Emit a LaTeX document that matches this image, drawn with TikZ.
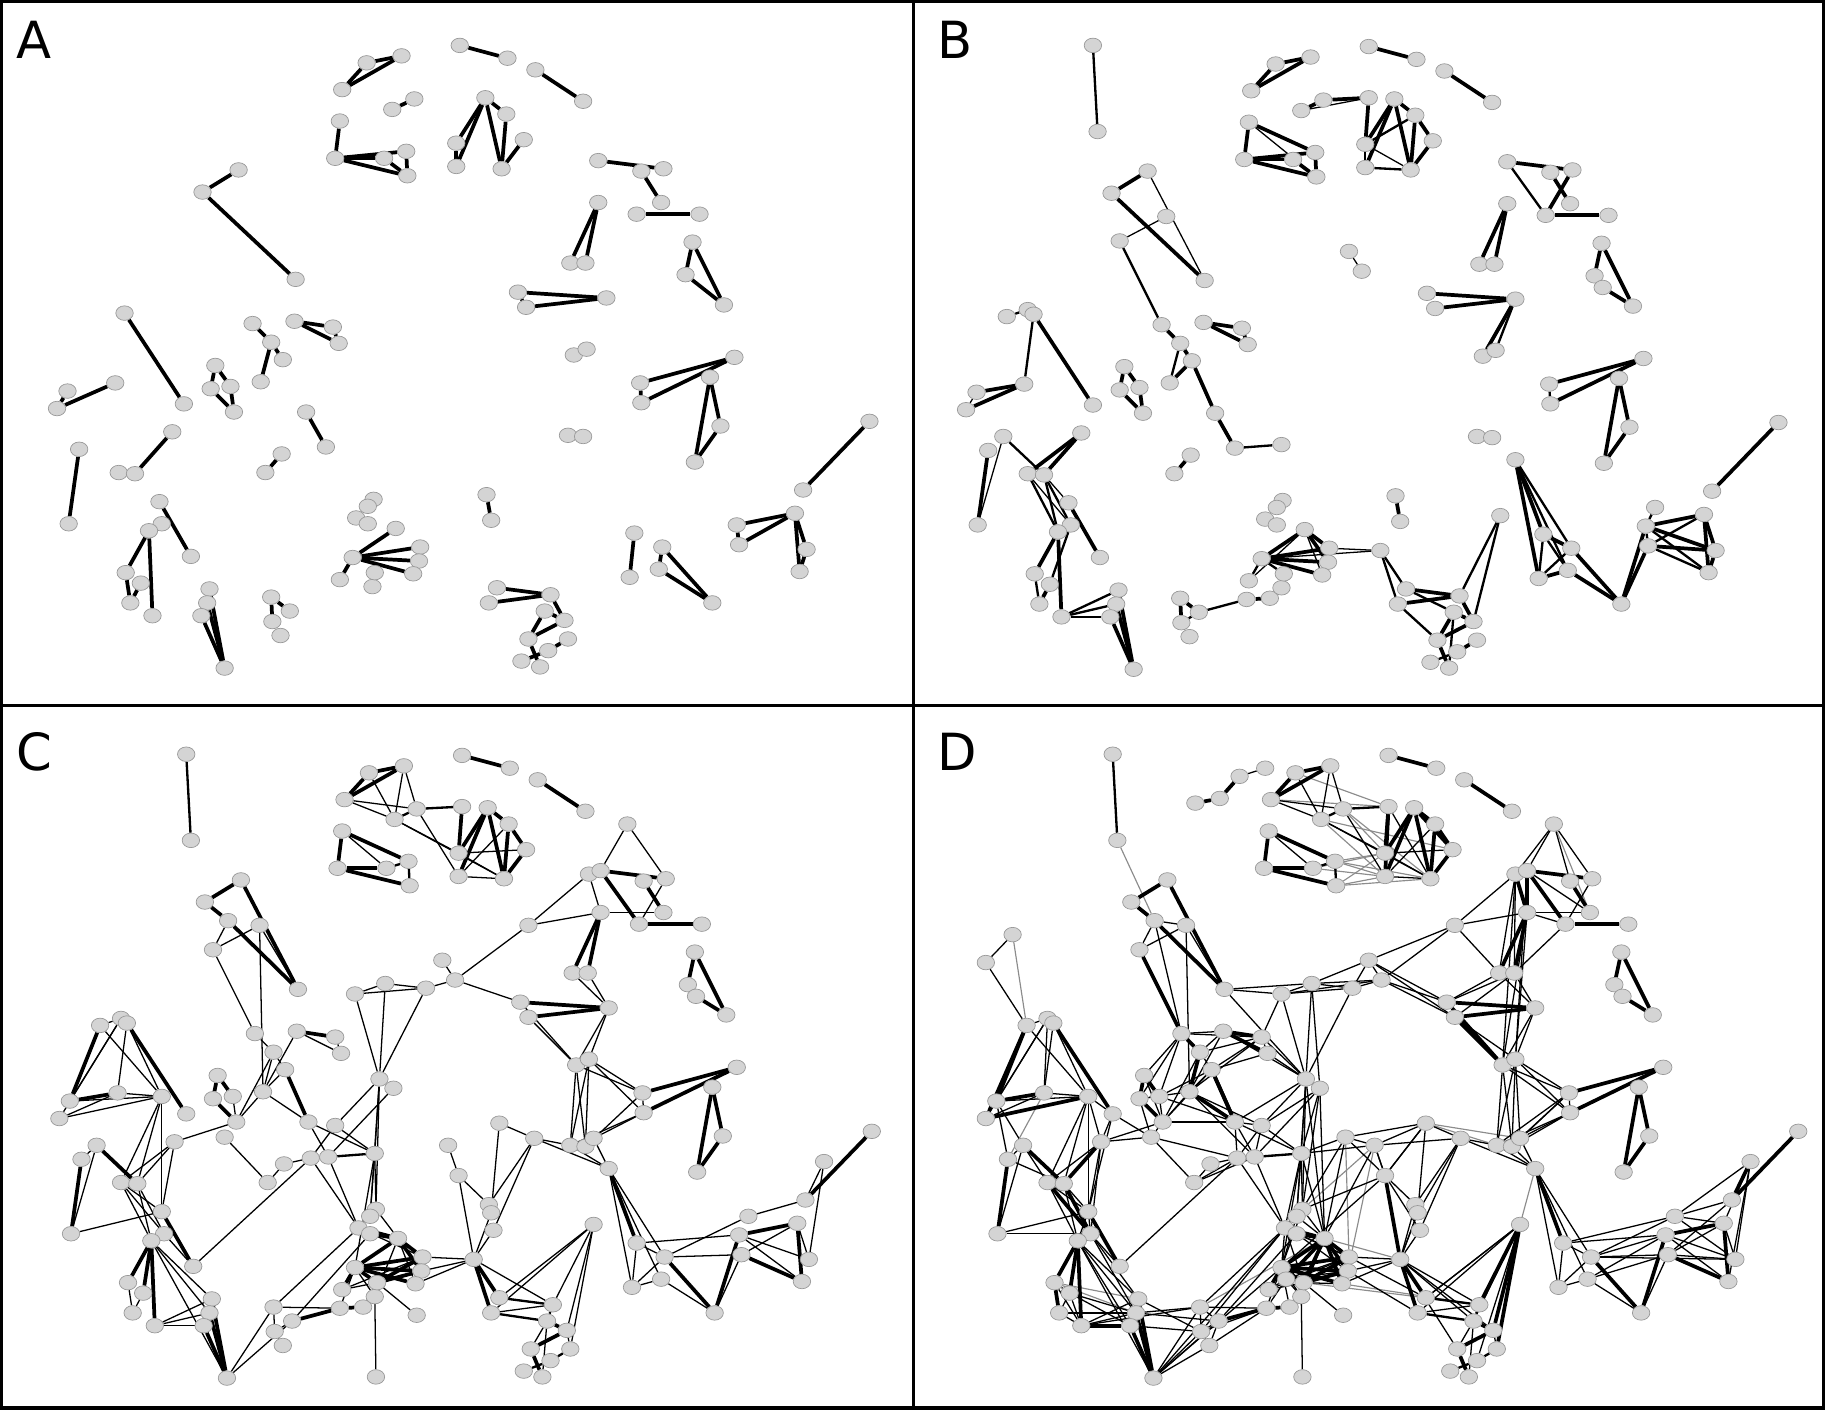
\documentclass[tikz,border=0pt]{standalone}
\usepackage{fontspec}
\setsansfont{DejaVu Sans}
\usetikzlibrary{shapes.geometric}
\pgfdeclarelayer{edges}
\pgfsetlayers{edges,main}

% node positions of the common layout (id/x/y)
\def\nodepos{1/160/37,2/164/111,3/347/47,4/317/53,5/296/76,6/358/84,7/339/93,8/294/103,9/290/135,10/332/135,11/351/129,12/352/150,13/397/38,14/438/49,15/462/59,16/503/86,17/397/82,18/419/83,19/437/97,20/394/122,21/394/142,22/433/144,23/452/119,24/539/97,25/506/140,26/516/137,27/553/146,28/572/144,29/570/173,30/549/183,31/603/183,32/516/173,33/454/184,34/492/225,35/505/225,36/597/207,37/591/235,38/598/245,39/624/261,40/447/250,41/454/263,42/523/255,43/495/304,44/506/299,45/633/306,46/612/323,47/552/328,48/553/345,49/621/365,50/599/396,51/429/354,52/459/367,53/490/373,54/503/374,55/510/367,56/523/393,57/749/361,58/708/387,59/692/420,60/643/434,61/685/440,62/635/450,63/637/467,64/695/471,65/689/490,66/614/517,67/547/457,68/571/469,69/543/495,70/568/488,71/394/399,72/420/424,73/422/431,74/424/446,75/407/471,76/510/441,77/429/504,78/422/517,79/475/510,80/470/524,81/487/532,82/456/548,83/490/548,84/473/558,85/450/567,86/466/572,87/207/145,88/176/164,89/196/180,90/223/184,91/183/205,92/256/239,93/380/214,94/391/231,95/305/243,96/331/234,97/366/238,98/326/316,99/338/324,100/86/270,101/104/264,102/109/268,103/60/335,104/51/350,105/101/328,106/139/331,107/160/346,108/219/277,109/235/293,110/245/308,111/226/327,112/255/275,113/288/280,114/293/294,115/187/313,116/183/333,117/200/331,118/203/353,119/265/353,120/288/356,121/282/383,122/267/384,123/244/389,124/230/405,125/193/366,126/150/370,127/83/373,128/70/385,129/104/405,130/118/406,131/61/449,132/139/430,133/141/449,134/130/455,135/166/477,136/110/491,137/123/500,138/114/517,139/133/528,140/182/505,141/180/517,142/175/528,143/195/573,144/235/512,145/251/524,146/236/533,147/243/545,148/292/513,149/312/512,150/322/503,151/323/572,152/322/380,153/323/428,154/318/434,155/308/444,156/318/449,157/342/453,158/305/478,159/294/497,160/324/491,161/363/469,162/362/481,163/357/492,164/358/519,165/385/373,166/231/79,167/252/75,168/269/56,169/291/49,170/74/192,171/51/216,172/360/366,173/309/488}

% panel A
\def\avis{3,4,5,6,7,8,9,10,11,12,13,14,15,16,18,19,20,21,22,23,26,27,28,29,30,31,32,34,35,36,37,39,40,41,42,43,44,45,46,47,48,49,50,53,54,57,59,61,62,63,64,65,66,67,68,69,70,72,74,77,78,79,80,81,82,83,84,85,86,87,88,92,102,103,104,105,107,108,109,110,111,112,113,114,115,116,117,118,119,121,123,124,126,128,129,130,131,132,133,134,135,136,137,138,139,140,141,142,143,144,145,146,147,150,153,154,155,156,157,158,159,160,161,162,163}
\def\aheavy{3/4,3/5,4/5,6/7,8/9,9/11,9/12,10/12,11/12,9/10,87/88,88/92,102/107,103/104,104/105,108/109,109/110,109/111,112/113,112/114,113/114,115/117,116/118,117/118,115/116,119/121,126/130,129/130,128/131,123/124,132/135,134/136,134/139,136/138,137/138,140/143,141/143,142/143,144/146,144/145,157/158,158/161,158/162,158/163,158/159,13/14,15/16,18/19,18/20,18/21,18/22,19/22,23/22,20/21,26/28,27/29,30/31,32/34,32/35,36/37,36/39,37/39,40/42,41/42,40/41,45/47,45/48,47/48,46/49,46/50,49/50,57/59,61/62,61/63,61/64,61/65,62/63,64/65,72/74,67/69,68/66,70/66,68/70,77/79,78/79,79/81,80/81,80/82,81/82,82/86,85/84,83/84}

% panel B
\def\bvis{1,2,3,4,5,6,7,8,9,10,11,12,13,14,15,16,17,18,19,20,21,22,23,26,27,28,29,30,31,32,34,35,36,37,38,39,40,41,42,43,44,45,46,47,48,49,50,53,54,56,57,59,60,61,62,63,64,65,66,67,68,69,70,72,74,75,76,77,78,79,80,81,82,83,84,85,86,87,88,90,91,92,93,94,100,101,102,103,104,105,107,108,109,110,111,112,113,114,115,116,117,118,119,121,123,124,126,127,128,129,130,131,132,133,134,135,136,137,138,139,140,141,142,143,144,145,146,147,148,149,150,152,153,154,155,156,157,158,159,160,161,162,163}
\def\bheavy{3/4,3/5,4/5,7/6,6/17,8/9,8/11,9/10,9/11,9/12,11/12,10/12,87/88,88/92,102/107,105/103,105/104,108/109,109/110,110/111,110/119,119/121,112/113,112/114,113/114,115/117,116/118,117/118,115/116,128/131,126/129,126/130,132/135,134/136,134/139,137/138,140/143,141/143,142/143,144/146,144/145,148/149,157/158,157/161,157/162,158/161,158/162,158/163,13/14,15/16,17/20,18/20,18/21,18/22,18/19,19/22,19/23,23/22,26/28,27/29,28/30,30/31,32/34,32/35,36/37,36/39,38/39,40/42,41/42,42/43,45/47,45/48,46/49,46/50,49/50,57/59,56/67,56/69,67/68,69/70,68/66,70/66,66/62,66/63,62/61,62/64,63/64,61/64,61/65,64/65,72/74,77/79,78/79,79/81,80/81,80/82,82/86,84/83,81/82,123/124}
\def\bmid{1/2,91/108,100/101,102/105,109/111,121/152,127/130,129/134,130/134,130/133,133/137,136/138,145/148,158/160,158/159,26/30,42/44,47/48,37/38,56/68,56/70,67/69,67/70,69/68,62/63,62/65,63/61,63/65,60/62,75/77,75/78,77/80,78/82,85/84,86/80,79/76,81/76,139/140,139/141,139/142,146/145,20/21,20/19,21/22}
\def\blight{7/17,8/12,87/92,90/91,93/94,103/104,127/131,129/133,130/132,157/163,157/159,161/75,158/75,20/22}

% panel C
\def\cheavy{3/4,3/5,4/5,8/9,8/11,9/10,9/12,13/14,15/16,17/20,18/20,18/21,18/22,18/19,19/22,19/23,23/22,26/28,26/30,27/29,30/31,32/34,32/35,36/37,36/39,38/39,40/42,41/42,47/45,48/45,46/49,46/50,49/50,56/67,68/66,66/62,62/61,63/65,61/65,59/57,87/88,87/92,88/89,89/92,100/103,102/107,103/105,110/119,112/113,115/117,116/118,115/116,127/130,128/131,132/135,134/136,134/137,134/139,140/143,141/143,142/143,145/148,148/149,155/157,156/157,157/158,157/161,157/162,158/161,158/162,158/163,158/160,158/159,160/161,160/162,80/81,81/82,82/86,75/77,75/78}
\def\cmid{1/2,7/6,6/17,11/12,10/11,121/152,79/80,84/83,85/84,77/79,78/80}
\def\clight{5/7,5/6,4/7,3/7,3/6,7/20,6/21,7/22,8/10,20/22,21/22,20/23,21/19,24/26,24/28,28/30,25/32,32/29,25/33,32/33,33/94,34/42,35/42,37/38,94/40,41/43,40/43,42/43,42/44,44/47,43/47,44/48,47/48,43/53,44/54,43/54,44/53,54/47,55/48,53/48,51/52,52/53,52/56,53/56,55/56,51/73,52/72,52/74,71/72,71/75,75/74,75/73,56/69,56/68,56/70,67/69,67/68,69/68,69/70,70/66,68/60,68/63,67/62,66/63,60/59,62/64,63/61,62/65,61/64,59/58,58/64,75/79,77/79,78/79,79/76,81/76,83/76,77/76,78/76,80/82,86/80,81/83,163/75,161/75,162/75,89/91,90/91,90/92,91/108,90/111,93/94,94/97,95/96,96/97,95/97,95/98,96/98,97/98,98/120,99/121,98/153,98/154,98/152,100/101,100/106,101/103,102/105,102/106,104/105,103/106,104/106,105/106,101/104,106/129,106/130,106/132,108/109,109/110,109/111,110/111,119/121,112/114,113/114,112/111,117/118,118/111,118/109,111/119,119/152,120/122,120/152,122/123,123/124,125/124,122/135,126/118,126/129,126/130,126/132,127/128,127/131,131/132,129/133,129/134,130/134,130/133,129/132,133/135,136/138,137/138,134/140,134/141,134/143,139/140,139/141,139/142,143/144,143/145,144/146,145/146,146/147,144/148,144/155,145/156,152/153,152/154,152/158,121/155,122/155,151/150,164/160,165/71,153/157,157/163,159/160,150/160,150/157,149/160,148/158,150/158,159/161,155/161}

% panel D: the links of C and these
\def\dheavy{166/167,167/168,17/21,18/23,25/32,26/32,40/43,41/43,71/75,76/79,76/81,76/83,58/59,100/104,104/106,108/109,109/111,111/119,91/108,129/133,130/133,126/130,136/138,139/142,157/173,158/173,157/163,157/160,112/114,110/119}
\def\dlight{168/169,170/171,171/100,93/97,93/33,93/40,93/41,93/96,94/96,94/95,17/22,24/25,24/27,26/29,33/34,25/34,25/35,25/43,26/44,32/43,32/44,30/32,30/35,94/41,40/34,40/35,41/35,41/44,43/48,55/44,54/48,53/47,55/47,51/71,51/172,52/165,152/165,165/172,172/71,52/73,54/56,72/75,73/75,71/74,71/165,76/77,76/80,76/84,75/80,75/81,75/82,67/60,68/62,68/64,70/63,70/62,60/61,60/64,63/64,63/59,58/60,58/61,58/65,89/90,89/108,92/95,92/96,92/98,96/99,101/102,101/105,106/107,106/126,103/128,103/127,107/126,107/125,107/132,108/112,108/113,108/115,108/117,108/116,109/113,109/112,110/113,110/114,111/113,112/98,113/98,113/95,114/98,116/117,115/118,117/110,118/110,116/111,118/119,118/125,116/125,117/119,119/120,119/122,119/98,111/121,111/120,120/121,122/152,99/120,99/152,122/124,126/125,125/122,124/121,128/130,127/129,131/133,126/133,129/130,130/132,132/133,132/134,136/137,136/139,137/139,138/139,134/142,133/140,133/141,137/141,137/142,138/141,141/144,141/145,142/146,139/144,140/146,143/146,143/147,143/158,143/155,144/145,145/147,146/148,147/148,146/155,153/154,152/155,152/157,154/157,159/173,160/163,150/173,148/173,149/158,155/158,156/161,156/162,161/162,162/163,161/163,173/161,173/162,153/158,154/158,155/160,161/77,162/78,152/172,98/157,99/153,99/157,165/51,71/51,172/153,172/157,71/153,71/158,165/157}
\def\dfaint{2/89,170/100,6/20,6/22,7/21,10/20,11/20,12/21,11/21,7/23,5/17,4/17,10/21,12/20,51/53,51/55,56/76,136/140,136/141,105/128,144/157,163/79,157/75,160/77,172/161,165/153,165/162,12/22,11/22,24/29}

\begin{document}
\begin{tikzpicture}[
    x=1pt, y=-1pt,
    vtx/.style={ellipse, fill=black!17, draw=black!40, line width=0.6pt,
      minimum width=15pt, minimum height=12.5pt, inner sep=0pt},
    heavy/.style={line width=3.2pt},
    mid/.style={line width=2pt},
    light/.style={line width=1.1pt},
    faint/.style={line width=1pt, black!45},
    frame/.style={line width=3pt},
    tag/.style={anchor=base west, inner sep=0pt,
      font=\sffamily\fontsize{44}{48}\selectfont},
]
  \useasboundingbox (0,0) rectangle (1568,1211);
  \foreach \i/\x/\y in \nodepos \coordinate (m\i) at (\x,\y);

  % A
  \foreach \i in \avis \node[vtx] (a\i) at ([shift={(-2,1)}]m\i) {};
  \begin{pgfonlayer}{edges}
    \foreach \u/\v in \aheavy \draw[heavy] (a\u) -- (a\v);
  \end{pgfonlayer}

  % B
  \foreach \i in \bvis \node[vtx] (b\i) at ([shift={(779,2)}]m\i) {};
  \begin{pgfonlayer}{edges}
    \foreach \u/\v in \blight \draw[light] (b\u) -- (b\v);
    \foreach \u/\v in \bmid \draw[mid] (b\u) -- (b\v);
    \foreach \u/\v in \bheavy \draw[heavy] (b\u) -- (b\v);
  \end{pgfonlayer}

  % C
  \foreach \i in {1,...,165} \node[vtx] (c\i) at ([shift={(0,611)}]m\i) {};
  \begin{pgfonlayer}{edges}
    \foreach \u/\v in \clight \draw[light] (c\u) -- (c\v);
    \foreach \u/\v in \cmid \draw[mid] (c\u) -- (c\v);
    \foreach \u/\v in \cheavy \draw[heavy] (c\u) -- (c\v);
  \end{pgfonlayer}

  % D
  \foreach \i in {1,...,173} \node[vtx] (d\i) at ([shift={(796,611)}]m\i) {};
  \begin{pgfonlayer}{edges}
    \foreach \u/\v in \dfaint \draw[faint] (d\u) -- (d\v);
    \foreach \u/\v in \clight \draw[light] (d\u) -- (d\v);
    \foreach \u/\v in \dlight \draw[light] (d\u) -- (d\v);
    \foreach \u/\v in \cmid \draw[mid] (d\u) -- (d\v);
    \foreach \u/\v in \cheavy \draw[heavy] (d\u) -- (d\v);
    \foreach \u/\v in \dheavy \draw[heavy] (d\u) -- (d\v);
  \end{pgfonlayer}

  % panels and letters
  \draw[frame] (1.5,1.5) rectangle (1566.5,1209.5);
  \draw[frame] (785,0) -- (785,1211);
  \draw[frame] (0,606) -- (1568,606);
  \node[tag] (la) at (14,50) {A};
  \node[tag] (lb) at (805,50) {B};
  \node[tag] (lc) at (14,662) {C};
  \node[tag] (ld) at (805,662) {D};
\end{tikzpicture}
\end{document}
